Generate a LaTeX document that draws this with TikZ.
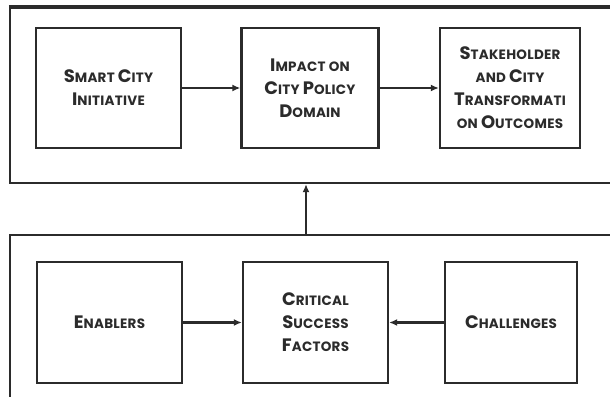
\documentclass[tikz,border=0pt]{standalone}
\usepackage{fontspec}
\setmainfont{Poppins}[LetterSpace=2]
\usetikzlibrary{arrows.meta}
\definecolor{ink}{HTML}{2B2B2B}
% large initial letters for the small-caps style labels
\newcommand\Cap[1]{{\fontsize{18}{23}\selectfont #1}}
\tikzset{
  panel/.style={draw=ink, line width=2.3pt, rectangle},
  block/.style={draw=ink, line width=2.3pt, rectangle, inner sep=0pt,
    align=center, text=ink, font=\fontsize{13.5}{23}\selectfont\bfseries},
  flow/.style={draw=ink, line width=2.3pt, -{Latex[length=8pt,width=7pt]}}
}
\begin{document}
\begin{tikzpicture}[x=1pt,y=-1pt]
  \useasboundingbox (0,0) rectangle (610,396);
  \fill[white] (0,0) rectangle (610,396);

  % outer panels (run past the right and bottom edges)
  \node[panel, minimum width=610pt, minimum height=175pt] (top) at (315,95.5) {};
  \draw[ink, line width=3pt] (top.north west) -- (top.north east);
  \node[panel, minimum width=610pt, minimum height=175pt] (bot) at (315,322.5) {};

  % upper row
  \node[block, minimum width=145pt, minimum height=120pt] (init) at (108.5,88)
    {\Cap{S}MART \Cap{C}ITY\\\Cap{I}NITIATIVE};
  \node[block, minimum width=137pt, minimum height=120pt] (impact) at (310,88)
    {\Cap{I}MPACT ON\\\Cap{C}ITY \Cap{P}OLICY\\\Cap{D}OMAIN};
  \node[block, minimum width=140pt, minimum height=120pt] (outcome) at (510,88)
    {\Cap{S}TAKEHOLDER\\AND \Cap{C}ITY\\\Cap{T}RANSFORMATI\\ON \Cap{O}UTCOMES};

  % lower row
  \node[block, minimum width=145pt, minimum height=121pt] (enab) at (109.5,322.5)
    {\Cap{E}NABLERS};
  \node[block, minimum width=145pt, minimum height=121pt] (csf) at (315.5,322.5)
    {\Cap{C}RITICAL\\\Cap{S}UCCESS\\\Cap{F}ACTORS};
  \node[block, minimum width=132pt, minimum height=121pt] (chal) at (511,322.5)
    {\Cap{C}HALLENGES};

  % connectors
  \draw[flow] (init) -- (impact);
  \draw[flow] (impact) -- (outcome);
  \draw[flow] (enab) -- (csf);
  \draw[flow] (chal) -- (csf);
  \coordinate (up) at (306,235);
  \draw[flow] (up) -- (up |- top.south);
\end{tikzpicture}
\end{document}
